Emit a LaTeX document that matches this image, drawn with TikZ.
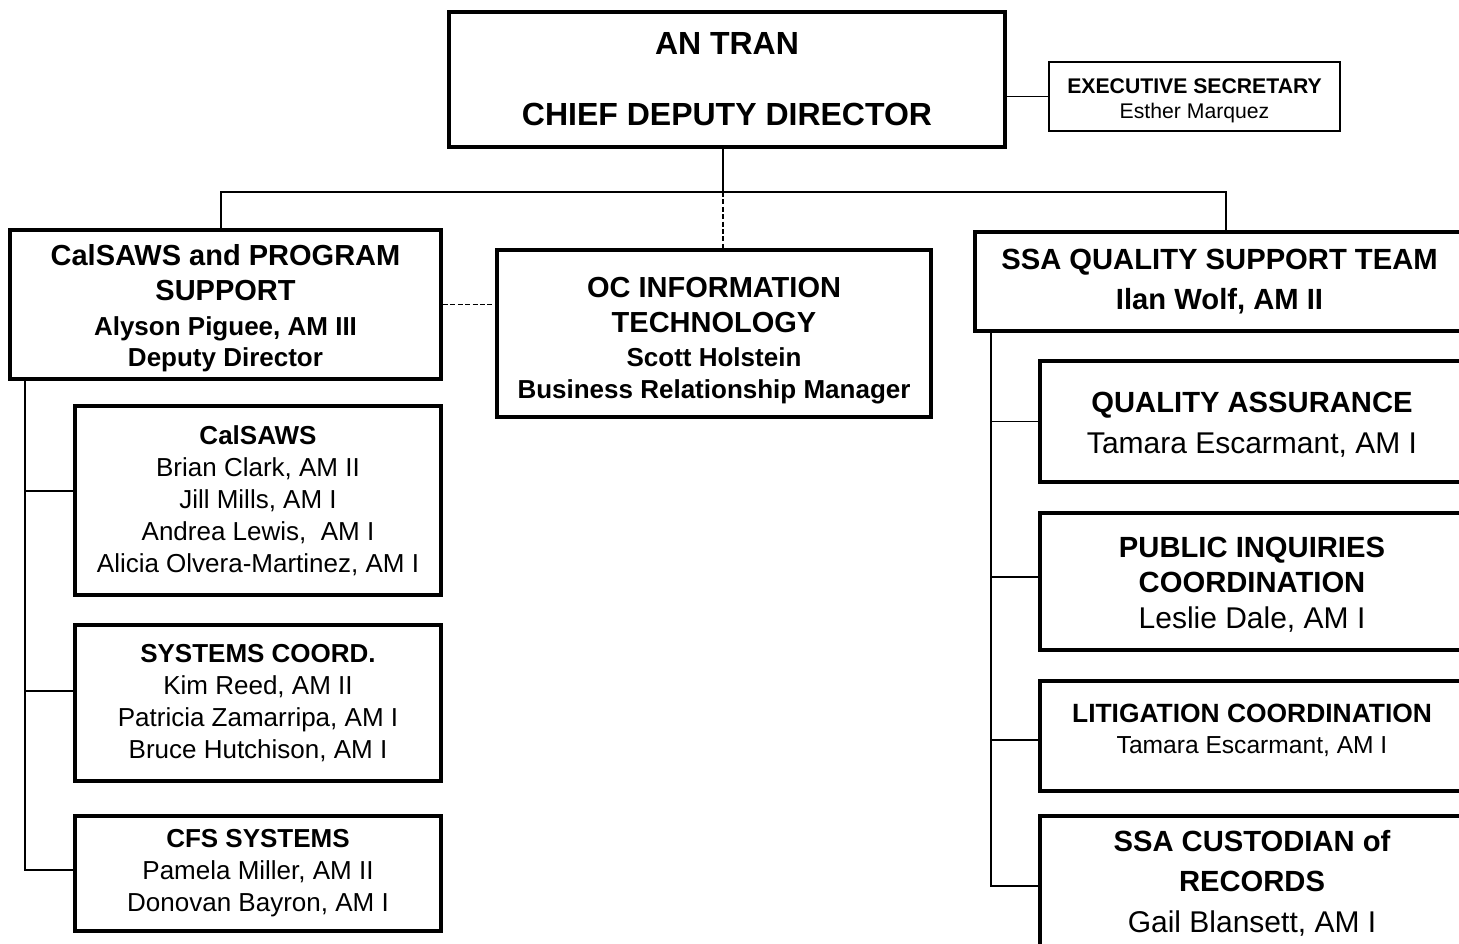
\documentclass[tikz,border=0pt]{standalone}
\usepackage{fontspec}
\setmainfont{Liberation Sans}

\begin{document}
\begin{tikzpicture}[x=0.5pt, y=-0.5pt]
		\tikzset{
			every node/.style={
				align=center,
				inner sep=0pt
			},
			unit/.style={
				draw,
				rectangle,
				line width=2pt
			},
			leftunit/.style={
				unit,
				minimum width=183pt,
				font=\fontsize{13}{16}\selectfont
			},
			rightunit/.style={
				unit,
				minimum width=212pt
			},
			line/.style={
				line width=0.75pt
			},
			dotline/.style={
				line width=0.75pt,
				dash pattern=on 2.5pt off 1.2pt
			}
		}

		\useasboundingbox (0, 0) rectangle (1459, 943);

		\node[unit, minimum width=278pt, minimum height=67.5pt,
			font=\fontsize{16}{35.5}\selectfont\bfseries] (chief) at (727, 79.5)
			{AN TRAN\\ CHIEF DEPUTY DIRECTOR};
		\node[draw, line width=1.4pt, minimum width=145.5pt, minimum height=34.5pt,
			font=\fontsize{10.6}{12.5}\selectfont] (exec) at (1194.5, 96.5)
			{\rule{0pt}{11.5pt}\textbf{EXECUTIVE SECRETARY}\\ Esther Marquez};

		\node[unit, minimum width=215.5pt, minimum height=74.5pt,
			font=\fontsize{13}{15.5}\selectfont\bfseries] (calsaws) at (225.5, 304.5)
			{\rule{0pt}{14.5pt}{\fontsize{14.5}{17.5}\selectfont CalSAWS and PROGRAM}\\[2pt]
			{\fontsize{14.5}{17.5}\selectfont SUPPORT}\\[2pt]
			Alyson Piguee, AM III\\ Deputy Director};
		\node[unit, minimum width=217pt, minimum height=83.5pt,
			font=\fontsize{13}{16}\selectfont\bfseries] (octech) at (714, 333.5)
			{\rule{0pt}{17.5pt}{\fontsize{14.5}{17.5}\selectfont OC INFORMATION}\\[1.5pt]
			{\fontsize{14.5}{17.5}\selectfont TECHNOLOGY}\\[1pt]
			Scott Holstein\\ Business Relationship Manager};
		\node[unit, minimum width=244.5pt, minimum height=49.5pt,
			font=\fontsize{14.6}{20}\selectfont\bfseries] (ssa) at (1219.5, 281.5)
			{SSA QUALITY SUPPORT TEAM\\ Ilan Wolf, AM II};

		\node[leftunit, minimum height=94.5pt] (calsub) at (258, 500.5)
			{\textbf{CalSAWS}\\ Brian Clark, AM II\\ Jill Mills, AM I\\
			Andrea Lewis,\ \ AM I\\ Alicia Olvera-Martinez, AM I};
		\node[leftunit, minimum height=78pt] (syscoord) at (258, 703)
			{\textbf{SYSTEMS COORD.}\\ Kim Reed, AM II\\
			Patricia Zamarripa, AM I\\ Bruce Hutchison, AM I};
		\node[leftunit, minimum height=57.5pt] (cfs) at (258, 873.5)
			{\textbf{CFS SYSTEMS}\\ Pamela Miller, AM II\\ Donovan Bayron, AM I};

		\node[rightunit, minimum height=60.5pt,
			font=\fontsize{15}{20.5}\selectfont] (qa) at (1252, 421.5)
			{\rule{0pt}{13.5pt}{\fontsize{14.6}{20}\selectfont\bfseries QUALITY ASSURANCE}\\
			Tamara Escarmant, AM I};
		\node[rightunit, minimum height=68.5pt,
			font=\fontsize{15}{17.5}\selectfont] (inquiry) at (1252, 581.5)
			{\rule{0pt}{13.5pt}{\fontsize{14.6}{17.5}\selectfont\bfseries PUBLIC INQUIRIES}\\
			{\fontsize{14.6}{17.5}\selectfont\bfseries COORDINATION}\\[0.5pt]
			Leslie Dale, AM I};
		\node[rightunit, minimum height=55pt,
			font=\fontsize{12.3}{15.5}\selectfont] (litig) at (1252, 736)
			{{\fontsize{13.2}{15.5}\selectfont\bfseries LITIGATION COORDINATION}\\
			Tamara Escarmant, AM I\rule[-7pt]{0pt}{7pt}};
		\node[rightunit, minimum height=67pt,
			font=\fontsize{15}{20}\selectfont] (custod) at (1252, 883)
			{{\fontsize{14.6}{20}\selectfont\bfseries SSA CUSTODIAN of}\\
			{\fontsize{14.6}{20}\selectfont\bfseries RECORDS}\\[0.5pt]
			Gail Blansett, AM I};

		\coordinate (bus) at (723, 192);
		\coordinate (lbus) at (221, 192);
		\coordinate (rbus) at (1226, 192);
		\coordinate (ltrunk) at (25, 379);
		\coordinate (rtrunk) at (991, 331);

		\coordinate (calsub-in) at ([yshift=4.75pt]calsub.west);
		\coordinate (syscoord-in) at ([yshift=6pt]syscoord.west);
		\coordinate (cfs-in) at ([yshift=1.75pt]cfs.west);
		\coordinate (inquiry-in) at ([yshift=2.25pt]inquiry.west);
		\coordinate (litig-in) at ([yshift=-2pt]litig.west);
		\coordinate (custod-in) at ([yshift=-1.5pt]custod.west);

		\draw[line] (exec.west) -- (exec.west -| chief.east);
		\draw[line] (chief.south -| bus) -- (bus);
		\draw[line] (lbus |- calsaws.north) -- (lbus) -- (rbus) -- (rbus |- ssa.north);
		\draw[dotline] (bus) -- (bus |- octech.north);
		\draw[dotline] (calsaws.east) -- (calsaws.east -| octech.west);

		\draw[line] (calsaws.south -| ltrunk) |- (cfs-in);
		\draw[line] (ltrunk |- calsub-in) -- (calsub-in);
		\draw[line] (ltrunk |- syscoord-in) -- (syscoord-in);

		\draw[line] (ssa.south -| rtrunk) |- (custod-in);
		\draw[line] (rtrunk |- qa.west) -- (qa.west);
		\draw[line] (rtrunk |- inquiry-in) -- (inquiry-in);
		\draw[line] (rtrunk |- litig-in) -- (litig-in);

	\end{tikzpicture}
\end{document}
